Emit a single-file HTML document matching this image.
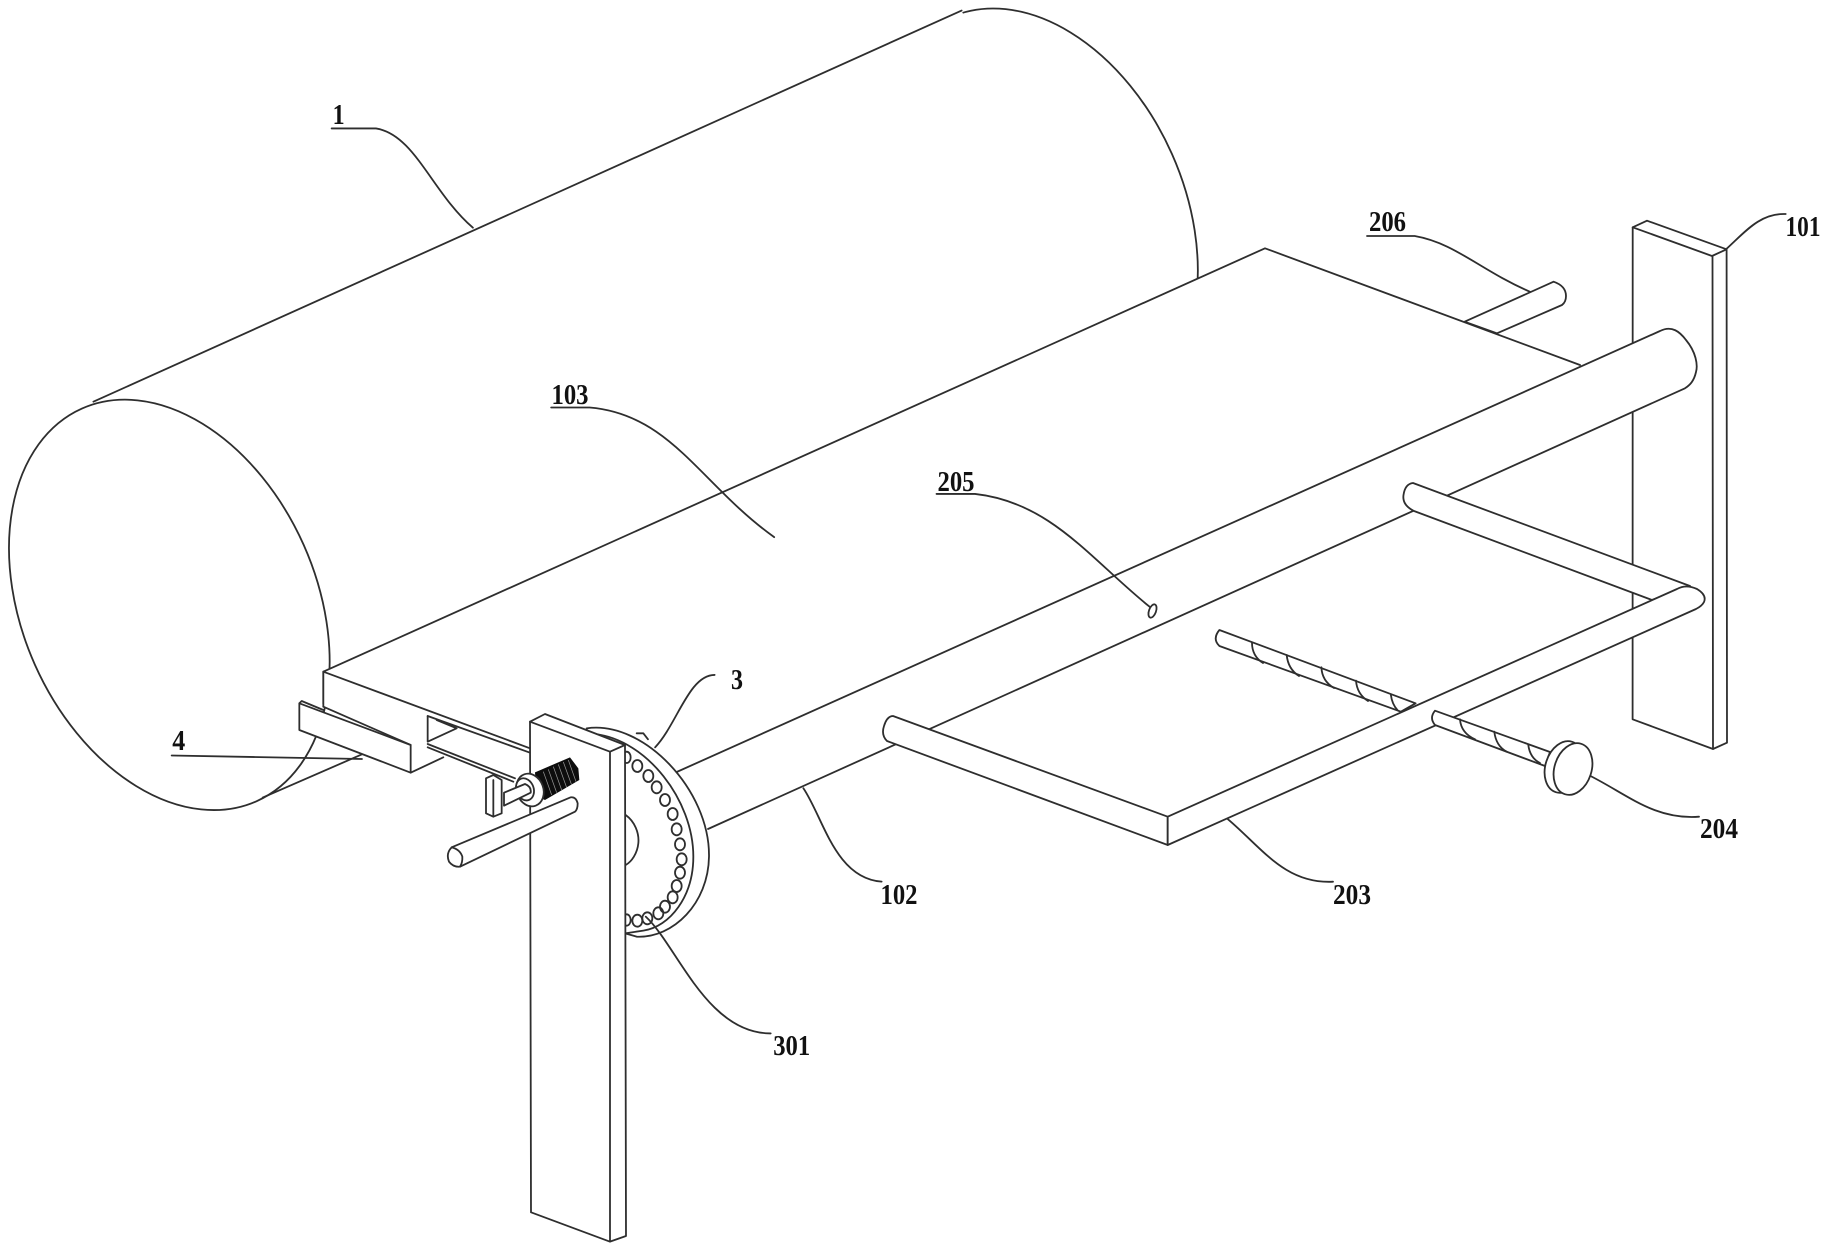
<!DOCTYPE html>
<html><head><meta charset="utf-8"><style>
html,body{margin:0;padding:0;background:#fff}
svg{display:block;filter:blur(.35px)}
svg *{vector-effect:non-scaling-stroke}
.l{fill:none;stroke:#2e2e2e;stroke-width:1.8;stroke-linejoin:round;stroke-linecap:round}
.f{fill:#fff;stroke:#2e2e2e;stroke-width:1.8;stroke-linejoin:round}
.w{fill:#fff;stroke:none}
.t{font-family:"Liberation Serif",serif;font-weight:bold;font-size:29px;fill:#111;text-anchor:middle}
</style></head><body>
<svg width="1831" height="1253" viewBox="0 0 1831 1253" xmlns="http://www.w3.org/2000/svg">
<rect class="w" width="1831" height="1253"/>

<g transform="scale(1.1677)">
  <!-- cylinder -->
  <ellipse class="f" cx="888.5" cy="183" rx="126" ry="184" transform="rotate(-24 888.5 183)"/>
  <polygon class="w" points="80,344 823.5,9 948,300 300,600"/>
  <line class="l" x1="80" y1="344" x2="823.5" y2="9"/>
  <ellipse class="f" cx="145" cy="518" rx="126" ry="184" transform="rotate(-24 145 518)"/>
  <line class="l" x1="225" y1="683" x2="310" y2="646"/>
</g>

<!-- rod 206 -->
<path class="f" d="M1464.6,321.7 L1553.6,281.7 Q1566,286 1566,296 Q1566,302 1562,305 L1497,333.3 Z"/>

<!-- table -->
<polygon class="w" points="323,672 1265,248 1580,365 1580,395 700,800 411,770 323,704"/>
<polyline class="l" points="323.3,704 323.3,671.7 1265,248.3 1580,365"/>

<!-- back plate 101 -->
<polygon class="f" points="1632.7,227.3 1647,220.7 1726.6,249.3 1727,742.7 1713,749 1632.6,719.3"/>
<polyline class="l" points="1632.7,227.3 1712,256 1726.6,249.3"/>
<line class="l" x1="1712.5" y1="256" x2="1713" y2="749"/>

<!-- roller 102 -->
<path class="w" d="M670,775 L1660,331 C1672,325 1680,332 1686,340 C1696,352 1698,365 1696,372 C1694,381 1690,385 1685,388.3 L708,829 Z"/>
<path class="l" d="M670,775 L1660,331 C1672,325 1680,332 1686,340 C1696,352 1698,365 1696,372 C1694,381 1690,385 1685,388.3 L708,829"/>
<!-- hole 205 -->
<ellipse class="l" cx="1152.5" cy="611" rx="3.5" ry="7" transform="rotate(20 1152.5 611)"/>

<!-- left screw -->
<path class="f" d="M1219.4,630 L1415.6,703.3 L1400.9,711.7 L1219.4,646 Q1212,639 1219.4,630 Z"/>
<path class="l" d="M1252,642.7 Q1252,656 1263,663 M1286.7,655 Q1288,669 1299,676 M1321.4,667.3 Q1322,681 1334,688 M1356,680.7 Q1357,694 1368,701 M1390.9,695 Q1392,704 1397.4,710"/>

<!-- left rod -->
<path class="f" d="M893,716 L1167.7,816.7 L1167.7,845 L887,741 Q881,735 884,726 Q887,716 893,716 Z"/>
<!-- right upper rod -->
<path class="f" d="M1413,483 L1690,586 L1652,600 L1414,511 Q1402,505 1403.5,495 Q1405,484 1413,483 Z"/>
<!-- front bar -->
<path class="f" d="M1167.7,816.7 L1677,589 Q1686,584 1697,589 Q1707,595 1704,602 Q1702,606 1696,609 L1167.7,845 Z"/>

<!-- right screw -->
<path class="f" d="M1435,710.7 L1550,752 L1545,766 L1435,725 Q1429,718 1435,710.7 Z"/>
<path class="l" d="M1460,719.3 Q1461,733 1475,739.3 M1494.3,731.7 Q1496,746 1506.7,751.7 M1528.3,745 Q1530,758 1540,763"/>
<!-- knob -->
<ellipse class="f" cx="1564" cy="767" rx="18.5" ry="26.5" transform="rotate(18 1564 767)"/>
<ellipse class="f" cx="1573" cy="769" rx="18.5" ry="26.5" transform="rotate(18 1573 769)"/>

<!-- left detail -->
<g transform="translate(280 640) scale(.33333)">
  <!-- table front face + slot -->
  <polygon class="w" points="130,95 750,325 750,430 392,398 130,200"/>
  <line class="l" x1="130" y1="95" x2="130" y2="200"/>
  <line class="l" x1="130" y1="95" x2="750" y2="325"/>
  <line class="l" x1="130" y1="200" x2="392" y2="315"/>
  <polyline class="l" points="443,228 443,305 530,265 470,240"/>
  <polyline class="l" points="443,228 750,338"/>
  <polyline class="l" points="443,312 705,415"/>
  <polyline class="l" points="443,322 700,425"/>
  <!-- rail -->
  <polygon class="f" points="58,190 392,315 392,398 58,270"/>
  <polyline class="l" points="58,190 65,183 130,210"/>
  <line class="l" x1="392" y1="398" x2="490" y2="352"/>

  <!-- wheel -->
  <path class="f" d="M920,265 C1090,240 1290,450 1287,650 C1285,790 1180,895 1070,890 L1000,870 Z"/>
  <path class="l" d="M945,282 C1100,300 1240,480 1240,650 C1240,770 1170,860 1090,872 L1035,880"/>
  <path class="l" d="M1070,280 L1090,280 L1104,298"/>
  <g class="l">
    <ellipse cx="1040" cy="352" rx="12" ry="17"/><ellipse cx="1072" cy="378" rx="15" ry="18"/><ellipse cx="1105" cy="408" rx="15" ry="18"/>
    <ellipse cx="1130" cy="442" rx="15" ry="18"/><ellipse cx="1155" cy="480" rx="15" ry="18"/><ellipse cx="1178" cy="522" rx="15" ry="18"/>
    <ellipse cx="1190" cy="568" rx="15" ry="18"/><ellipse cx="1200" cy="613" rx="15" ry="18"/><ellipse cx="1205" cy="658" rx="15" ry="18"/>
    <ellipse cx="1200" cy="698" rx="15" ry="18"/><ellipse cx="1190" cy="738" rx="15" ry="18"/><ellipse cx="1178" cy="772" rx="15" ry="18"/>
    <ellipse cx="1155" cy="800" rx="15" ry="18"/><ellipse cx="1135" cy="820" rx="15" ry="18"/><ellipse cx="1102" cy="835" rx="15" ry="18"/>
    <ellipse cx="1072" cy="842" rx="15" ry="18"/><ellipse cx="1040" cy="840" rx="12" ry="17"/>
  </g>
  <path class="l" d="M1037,525 C1065,545 1078,580 1075,610 C1072,640 1055,665 1037,675"/>

  <!-- post -->
  <polygon class="f" points="750,245 795,222 1035,315 1038,1788 990,1805 753,1717"/>
  <polyline class="l" points="750,245 990,335 1035,315"/>
  <line class="l" x1="990" y1="335" x2="990" y2="1805"/>

  <!-- clamp -->
  <path class="f" d="M618,415 L640,405 L665,420 L665,520 L640,530 L618,520 Z"/>
  <line class="l" x1="640" y1="420" x2="640" y2="530"/>
  <!-- spring -->
  <polygon points="765,397 870,352 895,385 898,420 795,480 770,470" fill="#0d0d0d"/>
  <g stroke="#999" stroke-width="0.7" fill="none">
    <path d="M790,395 L815,465 M805,388 L830,458 M820,380 L845,450 M835,373 L860,443 M850,366 L875,435 M865,360 L888,425"/>
  </g>
  <!-- collar -->
  <ellipse class="f" cx="750" cy="450" rx="40" ry="50" transform="rotate(-20 750 450)"/>
  <ellipse class="f" cx="735" cy="448" rx="26" ry="34" transform="rotate(-20 735 448)"/>
  <path class="f" d="M672,458 L735,432 Q755,440 752,458 L672,497 Z"/>
  <!-- lower rod -->
  <path class="f" d="M515,622 L872,472 Q888,470 893,490 Q893,508 885,515 L540,680 Q520,682 507,665 Q497,640 515,622 Z"/>
  <path class="l" d="M515,622 Q540,628 547,650 Q548,668 540,680"/>
</g>

<!-- leaders -->
<g transform="scale(1.1677)">
  <path class="l" d="M284,110 L322,110 C355,115 370,165 405,195"/>
  <path class="l" d="M472,349 L505,349 C575,355 600,415 663,460"/>
  <path class="l" d="M802,423 L835,423 C900,430 935,480 985,520"/>
  <path class="l" d="M147,647 L310,650"/>
  <path class="l" d="M688,675 C705,700 715,752 755,755"/>
  <path class="l" d="M553,785 C580,810 605,885 660,885"/>
  <path class="l" d="M561,640 C580,620 590,578 612,578"/>
</g>
<path class="l" d="M1726,249.3 C1745,232 1760,213 1785.7,214"/>
<path class="l" d="M1367,236 L1414.7,236 C1455,243 1480,270 1529.8,291.7"/>
<path class="l" d="M1228,819.3 C1262,848 1285,884 1333,881.7"/>
<path class="l" d="M1590.5,776 C1628,795 1655,820 1699,816.7"/>

<!-- labels -->
<g>
  <text class="t" x="338.6" y="124" textLength="12" lengthAdjust="spacingAndGlyphs">1</text>
  <text class="t" x="1803" y="236" textLength="35" lengthAdjust="spacingAndGlyphs">101</text>
  <text class="t" x="1387.5" y="231" textLength="37" lengthAdjust="spacingAndGlyphs">206</text>
  <text class="t" x="570" y="404" textLength="37" lengthAdjust="spacingAndGlyphs">103</text>
  <text class="t" x="956" y="491" textLength="37" lengthAdjust="spacingAndGlyphs">205</text>
  <text class="t" x="737" y="689" textLength="12" lengthAdjust="spacingAndGlyphs">3</text>
  <text class="t" x="178.7" y="750" textLength="13" lengthAdjust="spacingAndGlyphs">4</text>
  <text class="t" x="899" y="904" textLength="37" lengthAdjust="spacingAndGlyphs">102</text>
  <text class="t" x="1352" y="904" textLength="38" lengthAdjust="spacingAndGlyphs">203</text>
  <text class="t" x="1719" y="838" textLength="38" lengthAdjust="spacingAndGlyphs">204</text>
  <text class="t" x="791.7" y="1055" textLength="37" lengthAdjust="spacingAndGlyphs">301</text>
</g>
</svg>
</body></html>
